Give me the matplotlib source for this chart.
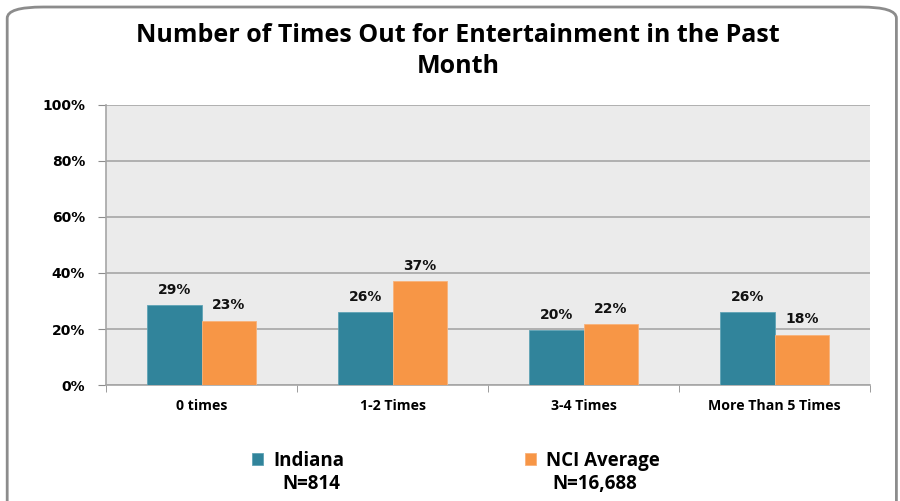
import matplotlib
matplotlib.use("Agg")
import matplotlib.pyplot as plt
from matplotlib.patches import FancyBboxPatch
import numpy as np

categories = ["0 times", "1-2 Times", "3-4 Times", "More Than 5 Times"]
indiana = [28.6, 26.0, 19.6, 26.0]
nci = [23.0, 37.0, 21.8, 18.0]
series_labels = ["Indiana\nN=814", "NCI Average\nN=16,688"]
yticks = [0, 20, 40, 60, 80, 100]
title = "Number of Times Out for Entertainment in the Past\nMonth"

plt.rcParams['font.family'] = ['Open Sans', 'DejaVu Sans']

teal = "#31849B"
orange = "#F79646"

fig = plt.figure(figsize=(9, 5.01), dpi=100)
border = FancyBboxPatch((0.008, -0.05), 0.988, 1.036, boxstyle="round,pad=0,rounding_size=0.04",
                        transform=fig.transFigure, facecolor="none", edgecolor="#8C8C8C",
                        linewidth=2, mutation_aspect=501/900, zorder=-1)
fig.patches.append(border)

ax = fig.add_axes([0.1178, 0.2315, 0.849, 0.559])
ax.set_facecolor("#EBEBEB")
x = np.arange(len(categories))
w = 0.285
b1 = ax.bar(x - w/2, indiana, w, color=teal, edgecolor="#5FA3B5", linewidth=0.6, zorder=3)
b2 = ax.bar(x + w/2, nci, w, color=orange, edgecolor="#F9B27A", linewidth=0.6, zorder=3)

for bars, vals in ((b1, indiana), (b2, nci)):
    for r, v in zip(bars, vals):
        ax.annotate(f"{round(v):d}%", (r.get_x() + r.get_width()/2, v), xytext=(0, 6),
                    textcoords="offset points", ha="center", va="bottom",
                    fontsize=10, fontweight="bold", color="#111111", family="DejaVu Sans")

ax.set_xlim(-0.5, len(categories) - 0.5)
ax.set_ylim(0, 100)
ax.set_yticks(yticks)
ax.set_yticklabels([f"{t}%" for t in yticks], fontsize=10, fontweight="bold", family="DejaVu Sans")
ax.yaxis.grid(True, color="#A6A6A6", linewidth=1.2, zorder=0)
ax.set_axisbelow(True)
ax.tick_params(axis="y", length=6, color="#8C8C8C", pad=9)
ax.set_xticks(x)
ax.set_xticklabels(categories, fontsize=10.2, fontweight="bold")
ax.set_xticks(np.arange(len(categories) + 1) - 0.5, minor=True)
ax.tick_params(axis="x", which="major", length=0, pad=10)
ax.tick_params(axis="x", which="minor", length=5, color="#8C8C8C")
for s in ["top", "right"]:
    ax.spines[s].set_visible(False)
for s in ["left", "bottom"]:
    ax.spines[s].set_color("#A6A6A6")
    ax.spines[s].set_linewidth(1.2)

fig.text(0.509, 0.898, title, ha="center", va="center", fontsize=18, fontweight="bold",
         linespacing=1.32, color="#000000")

first_lines = [s.split("\n")[0] for s in series_labels]
second_lines = [s.split("\n")[1] for s in series_labels]
leg = fig.legend(handles=[b1, b2], labels=first_lines, loc="center left", ncol=2,
                 bbox_to_anchor=(252/900, 1 - 461/501), frameon=False,
                 prop={"weight": "bold", "size": 13.5}, columnspacing=9.65,
                 handlelength=0.6, handleheight=0.6, handletextpad=0.53,
                 borderpad=0, borderaxespad=0)
for xc, s in zip([311/900, 595/900], second_lines):
    fig.text(xc, 1 - 484/501, s, ha="center", va="center", fontsize=13.5, fontweight="bold")

fig.savefig("out.png", dpi=100)
